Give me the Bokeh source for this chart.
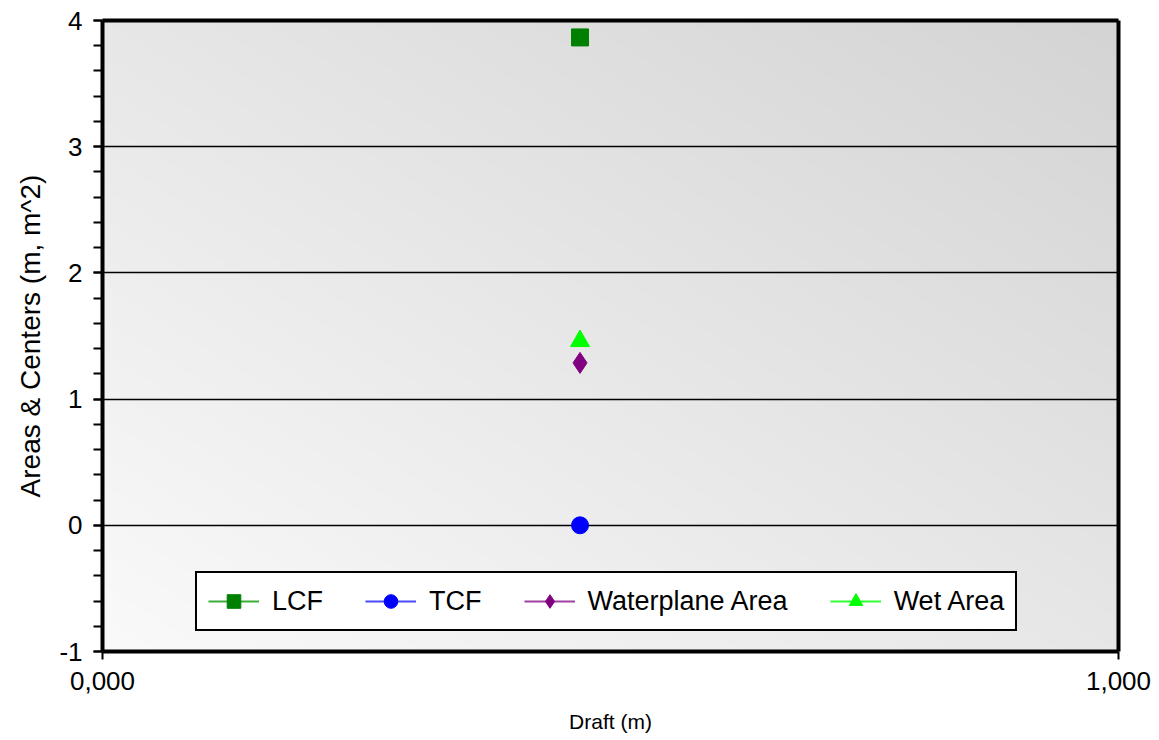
import numpy as np
from bokeh.plotting import figure
from bokeh.models import (Range1d, SingleIntervalTicker, FixedTicker, Legend, LegendItem,
                          LinearAxis)
from bokeh.embed import file_html
from bokeh.resources import INLINE

# ---- data ----
draft = [0.47]
lcf = [3.866]
tcf = [0.0]
waterplane_area = [1.287]
wet_area = [1.46]
x_ticks = [0, 1]
x_tick_labels = ["0,000", "1,000"]
y_tick_fix = {-1: "-1"}
series_names = ["LCF", "TCF", "Waterplane Area", "Wet Area"]

FONT = "Liberation Sans"

p = figure(width=1155, height=735, output_backend="svg", toolbar_location=None,
           x_range=Range1d(0, 1), y_range=Range1d(-1, 4),
           min_border_left=102, min_border_right=37, min_border_top=20, min_border_bottom=81)
p.background_fill_color = "white"
p.border_fill_color = "white"
p.outline_line_color = None

xa = p.below[0]
ya = p.left[0]

# gradient background (light bottom-left -> darker top-right)
n = 200
u = np.linspace(0, 1, n)[None, :]
w = np.linspace(0, 1, n)[:, None]
g = (250 - 19 * u - 19 * w).astype(np.uint8)
img = np.empty((n, n), dtype=np.uint32)
view = img.view(dtype=np.uint8).reshape((n, n, 4))
view[:, :, 0] = g
view[:, :, 1] = g
view[:, :, 2] = g
view[:, :, 3] = 255
p.image_rgba(image=[img], x=0, y=-1, dw=1, dh=5, level="image")

# frame axes on top/right (thick lines only)
for side in ("above", "right"):
    ax = LinearAxis(ticker=FixedTicker(ticks=[]), major_tick_line_color=None,
                    minor_tick_line_color=None, major_tick_out=0, minor_tick_out=0,
                    major_label_standoff=0, axis_line_color="black", axis_line_width=4)
    p.add_layout(ax, side)

# axes
ya.ticker = SingleIntervalTicker(interval=1, num_minor_ticks=5)
ya.major_label_overrides = y_tick_fix
xa.ticker = FixedTicker(ticks=x_ticks)
xa.major_label_overrides = {t: l for t, l in zip(x_ticks, x_tick_labels)}
for ax in (xa, ya):
    ax.axis_line_color = "black"
    ax.axis_line_width = 4
    ax.major_tick_line_color = "black"
    ax.minor_tick_line_color = "black"
    ax.major_tick_line_width = 2
    ax.minor_tick_line_width = 2
    ax.major_tick_in = 0
    ax.minor_tick_in = 0
    ax.major_label_text_font = FONT
    ax.major_label_text_font_size = "26px"
    ax.major_label_text_color = "black"
    ax.axis_label_text_font = FONT
    ax.axis_label_text_font_style = "normal"
    ax.axis_label_text_color = "black"
ya.major_tick_out = 9
ya.minor_tick_out = 9
xa.major_tick_out = 8
xa.minor_tick_out = 0
xa.minor_tick_line_color = None
ya.major_label_standoff = 11
xa.major_label_standoff = 12
ya.axis_label = "Areas & Centers (m, m^2)"
ya.axis_label_text_font_size = "28px"
ya.axis_label_standoff = 10
xa.axis_label = "Draft (m)"
xa.axis_label_text_font_size = "21px"
xa.axis_label_standoff = 17

p.xgrid.grid_line_color = None
p.ygrid.grid_line_color = "black"
p.ygrid.grid_line_width = 1.5
p.ygrid.ticker = FixedTicker(ticks=[0, 1, 2, 3])

# series
specs = [
    (lcf, "square", "#008000", "#3cae3c", 17),
    (tcf, "circle", "#0000ff", "#4a4aff", 17),
    (waterplane_area, "diamond", "#800080", "#a040a0", 21),
    (wet_area, "triangle", "#00ff00", "#30ff30", 19),
]
items = []
for name, (vals, marker, mcol, lcol, sz) in zip(series_names, specs):
    lr = p.line(draft, vals, line_color=lcol, line_width=2)
    sr = p.scatter(draft, vals, marker=marker, size=sz, fill_color=mcol, line_color=mcol)
    items.append(LegendItem(label=name, renderers=[lr, sr]))

legend = Legend(items=items, orientation="horizontal", location=(93, 20))
legend.label_text_font = FONT
legend.label_text_font_size = "27px"
legend.label_text_color = "black"
legend.glyph_width = 51
legend.glyph_height = 34
legend.label_standoff = 13
legend.spacing = 42
legend.padding = 11
legend.margin = 0
legend.border_line_color = "black"
legend.border_line_alpha = 1
legend.border_line_width = 2
legend.background_fill_color = "white"
legend.background_fill_alpha = 1
p.add_layout(legend, "center")

open("out.html", "w").write(file_html(p, INLINE))
